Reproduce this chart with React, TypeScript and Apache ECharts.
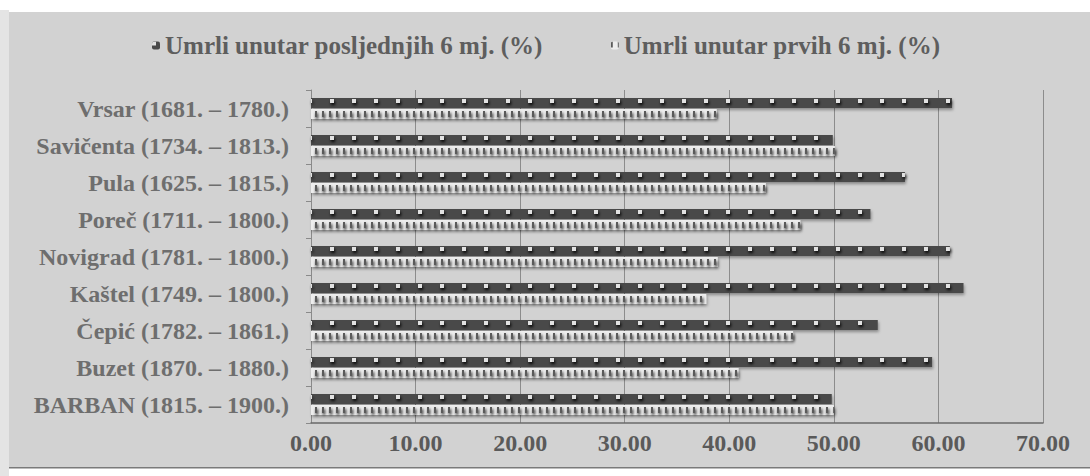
import React, { useEffect, useRef } from 'react';
import * as echarts from 'echarts';

const categories = [
  'Vrsar (1681. – 1780.)',
  'Savičenta (1734. – 1813.)',
  'Pula (1625. – 1815.)',
  'Poreč (1711. – 1800.)',
  'Novigrad (1781. – 1800.)',
  'Kaštel (1749. – 1800.)',
  'Čepić (1782. – 1861.)',
  'Buzet (1870. – 1880.)',
  'BARBAN (1815. – 1900.)',
];
const lastSixMonths = [61.3, 49.9, 56.8, 53.5, 61.1, 62.4, 54.2, 59.4, 49.8];
const firstSixMonths = [38.8, 50.1, 43.5, 46.8, 38.9, 37.8, 46.1, 40.9, 50.0];
const seriesNames = ['Umrli unutar posljednjih 6 mj. (%)', 'Umrli unutar prvih 6 mj. (%)'];
const xMin = 0;
const xMax = 70;
const xStep = 10;

const FONT = '"Liberation Serif", "Times New Roman", serif';

export default function App() {
  const ref = useRef<HTMLDivElement>(null);
  useEffect(() => {
    if (!ref.current) return;
    const chart = echarts.init(ref.current, null, { renderer: 'svg' });
    const shadow = {
      shadowColor: 'rgba(0,0,0,0.35)',
      shadowBlur: 3,
      shadowOffsetX: 1,
      shadowOffsetY: 2,
    };
    chart.setOption({
      animation: false,
      backgroundColor: '#ffffff',
      graphic: [
        { type: 'rect', left: 0, top: 10, shape: { width: 9, height: 466 }, style: { fill: '#e4e4e4' }, silent: true, z: -10 },
        { type: 'rect', left: 9, top: 12, shape: { width: 1081, height: 456 }, style: { fill: '#d2d2d2' }, silent: true, z: -10 },
        { type: 'rect', left: 9, top: 467, shape: { width: 1081, height: 1.5 }, style: { fill: '#7a7a7a' }, silent: true, z: -9 },
      ],
      legend: {
        top: 28,
        left: 147,
        itemGap: 68,
        itemWidth: 8,
        itemHeight: 8,
        data: seriesNames,
        textStyle: { fontFamily: FONT, fontWeight: 'bold', fontSize: 25, color: '#5e5e5e' },
      },
      grid: { left: 311, right: 47, top: 90, height: 333 },
      xAxis: {
        type: 'value',
        min: xMin,
        max: xMax,
        interval: xStep,
        axisLine: { show: true, lineStyle: { color: '#6a6a6a', width: 1.5 } },
        axisTick: { show: false },
        splitLine: { show: true, lineStyle: { color: '#8c8c8c', width: 1 } },
        axisLabel: {
          margin: 8,
          formatter: (v: number) => v.toFixed(2),
          fontFamily: FONT,
          fontWeight: 'bold',
          fontSize: 24,
          color: '#5a5a5a',
        },
      },
      yAxis: {
        type: 'category',
        inverse: true,
        data: categories,
        axisLine: { show: true, lineStyle: { color: '#8a8a8a', width: 1 } },
        axisTick: { show: true, inside: false, length: 5, lineStyle: { color: '#8a8a8a' } },
        axisLabel: {
          margin: 22,
          fontFamily: FONT,
          fontWeight: 'bold',
          fontSize: 24,
          color: '#6e6e6e',
        },
      },
      series: [
        {
          name: seriesNames[0],
          type: 'bar',
          data: lastSixMonths,
          barWidth: 10,
          barGap: '10%',
          itemStyle: {
            color: '#4a4a4a',
            ...shadow,
            decal: {
              symbol: 'rect',
              symbolSize: 1,
              symbolKeepAspect: false,
              color: '#e2e2e2',
              dashArrayX: [4, 18],
              dashArrayY: [4, 21, 4, 8],
            },
          },
        },
        {
          name: seriesNames[1],
          type: 'bar',
          data: firstSixMonths,
          barWidth: 10,
          itemStyle: {
            color: '#ededed',
            ...shadow,
            decal: {
              symbol: 'rect',
              symbolSize: 1,
              symbolKeepAspect: false,
              color: '#5a5a5a',
              dashArrayX: [2, 5],
              dashArrayY: [6, 31],
            },
          },
        },
      ],
    });
    return () => chart.dispose();
  }, []);
  return (
    <div
      ref={ref}
      style={{ position: 'absolute', left: 0, top: 0, width: 1090, height: 476 }}
    />
  );
}
